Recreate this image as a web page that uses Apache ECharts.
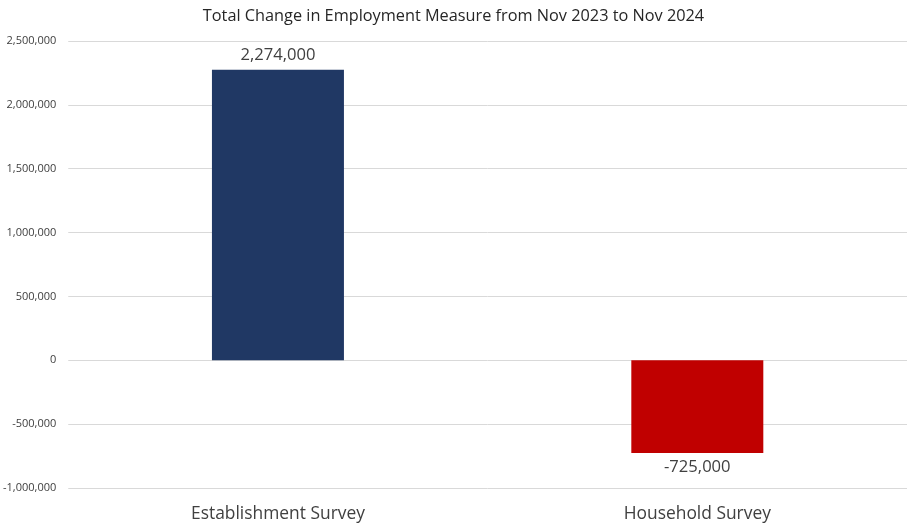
<!DOCTYPE html>
<html><head><meta charset="utf-8">
<script src="https://cdn.jsdelivr.net/npm/echarts@6/dist/echarts.min.js"></script>
<style>html,body{margin:0;padding:0;background:#fff}#c{width:907px;height:530px}</style>
</head><body><div id="c"></div>
<script>
const categories = ["Establishment Survey", "Household Survey"];
const values = [2274000, -725000];
const barColors = ["#203864", "#C00000"];
const yTicks = { min: -1000000, max: 2500000, interval: 500000 };

const fmt = v => (v < 0 ? "-" : "") + Math.abs(v).toString().replace(/\B(?=(\d{3})+(?!\d))/g, ",");
const font = "'Open Sans', 'Liberation Sans', sans-serif";
const chart = echarts.init(document.getElementById('c'));
chart.setOption({
  animation: false,
  title: { text: "Total Change in Employment Measure from Nov 2023 to Nov 2024", left: 'center', top: 3,
    textStyle: { fontFamily: font, fontSize: 16.3, fontWeight: 'normal', color: '#262626' } },
  grid: { left: 67, right: 0, top: 41, bottom: 42 },
  xAxis: { type: 'category', data: categories,
    axisLine: { show: false, onZero: false }, axisTick: { show: false },
    axisLabel: { margin: 18, fontFamily: font, fontSize: 17.4, color: '#404040' } },
  yAxis: { type: 'value', min: yTicks.min, max: yTicks.max, interval: yTicks.interval,
    axisLine: { show: false }, axisTick: { show: false },
    splitLine: { lineStyle: { color: '#d9d9d9', width: 1 } },
    axisLabel: { margin: 12, fontFamily: font, fontSize: 11, color: '#404040', formatter: fmt } },
  series: [{ type: 'bar', barWidth: 132,
    data: values.map((v, i) => ({ value: v, itemStyle: { color: barColors[i] },
      label: { show: true, position: v >= 0 ? 'top' : 'bottom', distance: 6, formatter: p => fmt(p.value),
        fontFamily: font, fontSize: 16.6, color: '#404040' } })) }]
});
</script></body></html>
